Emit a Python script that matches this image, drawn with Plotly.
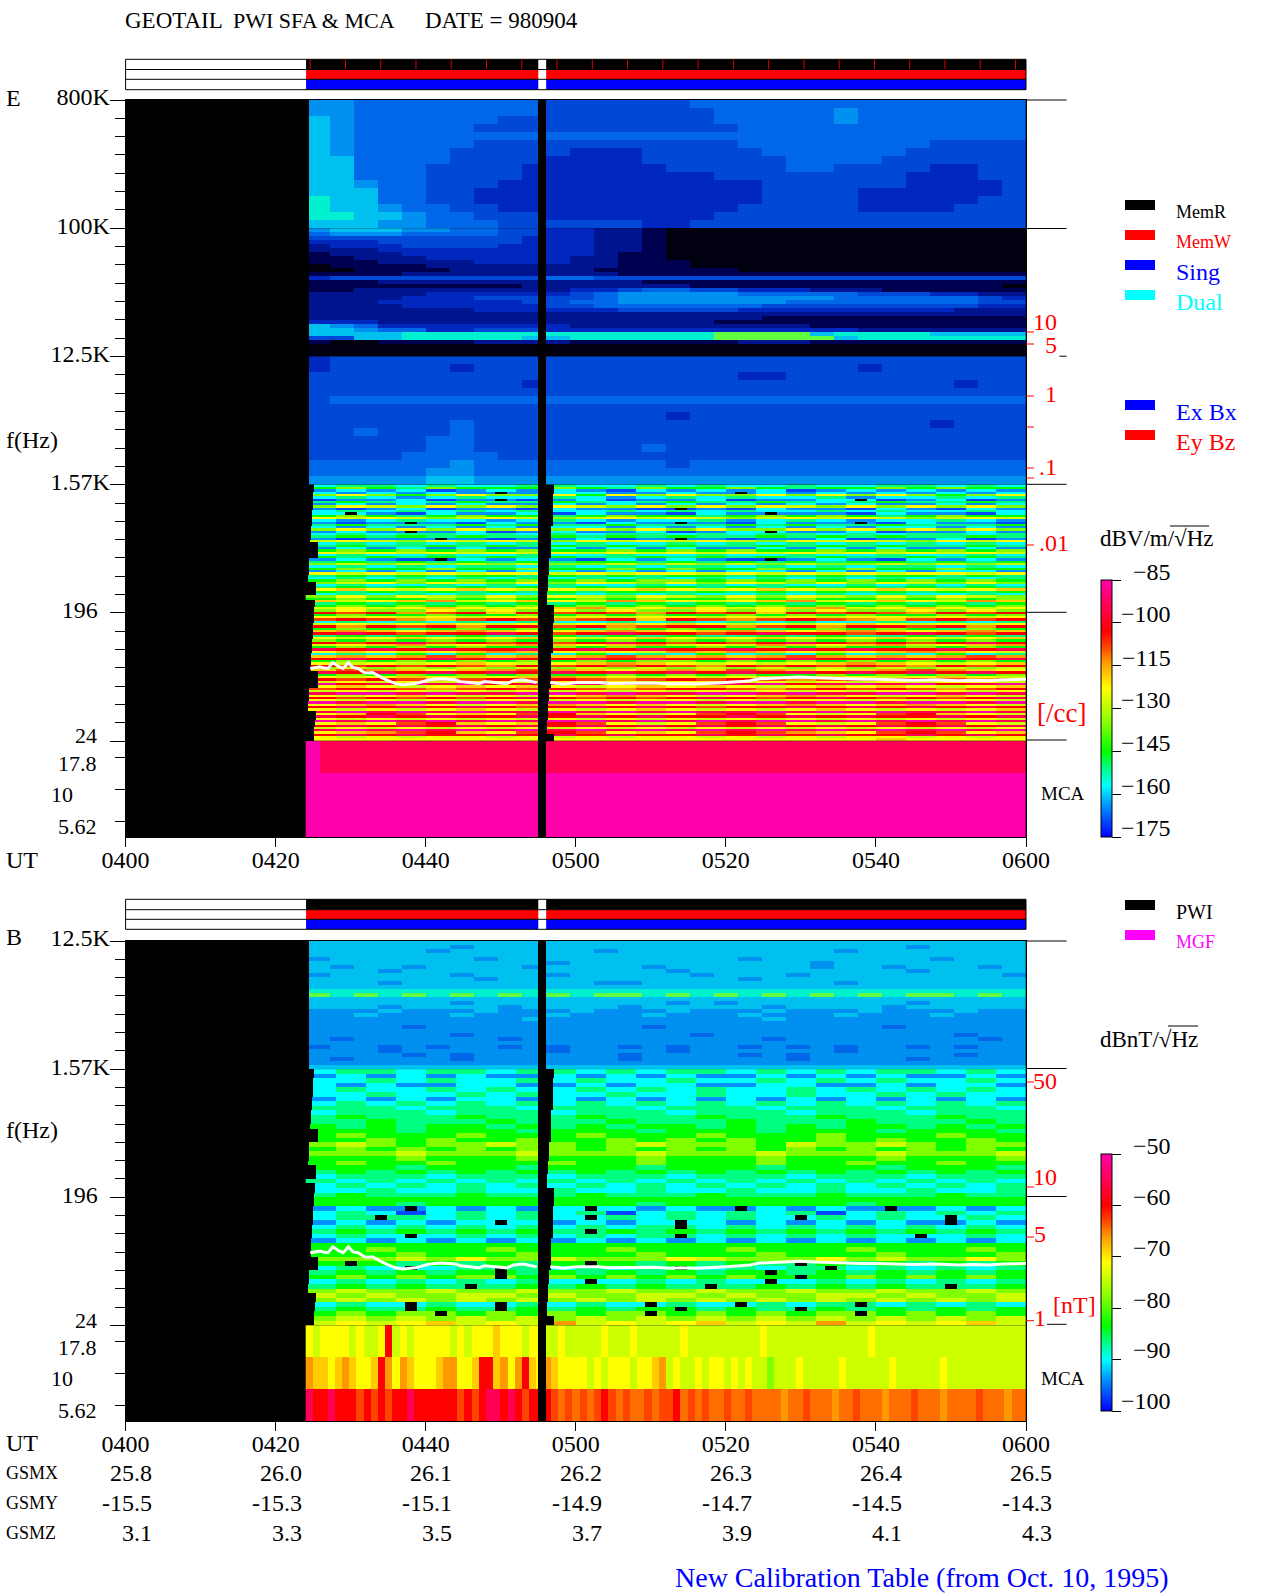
import math
import plotly.graph_objects as go

W, H = 1280, 1593
FONT = "Liberation Serif"

# ---------- level codes (fraction of the colour bar) ----------
LEVEL_FRACTION = {"0": 0.0, "1": 0.06, "2": 0.12, "3": 0.20, "4": 0.27, "5": 0.33, "6": 0.44,
                  "g": 0.52, "7": 0.58, "h": 0.63, "8": 0.68, "j": 0.71, "i": 0.74, "9": 0.80, "a": 0.90, "b": 1.0}
SPECTRUM = [[0.0, "#0000ff"], [0.06, "#0048ff"], [0.12, "#0090ff"], [0.20, "#00ffff"], [0.27, "#00ff80"],
            [0.33, "#00ff00"], [0.44, "#80ff00"], [0.52, "#ccff00"], [0.58, "#ffff00"], [0.63, "#ffcc00"],
            [0.68, "#ff9900"], [0.74, "#ff4400"], [0.80, "#ff0000"], [0.90, "#ff0055"], [1.0, "#ff00aa"]]
NOISE_COLORS = ["#000010", "#000050", "#001490", "#0028c0", "#0048d8",
                "#0068e8", "#0090f0", "#00c0f0", "#00f0d0", "#60ff40"]

# ---------- E panel: 800K-100K, 100K-12.5K, 12.5K-1.57K (mean noise level, 0-9) ----------
E_BAND1 = [
    "665555555544444455555555555555", "665555555544444445555565555555", "765555554444444445555565555555",
    "765555544444444444555555555555", "765555555555555555555555555555", "765555544444444444555555554444",
    "765555444443334444455555544444", "775555444433334444445555444444", "775554444333333444445544443344",
    "775554444333333334444444433344", "776554443333333333344444433334", "777554433333333333344443333334",
    "877554433333333333344443333344", "877655443333333333444443333444", "887765544433333334444444444444",
    "777665554444443344444444444444"]
E_BAND2 = [
    "677766554433221000000000000000", "566655554433221000000000000000", "444444444333221000000000000000",
    "333444444333221000000000000000", "233344443333221000000000000000", "222333333333221000000000000000",
    "122233333333211000000000000000", "112223333332211000000000000000", "111222233332211100000000000000",
    "011112222222211100000000000000", "001111222222111111000000000000", "111122222222211111111111111111",
    "344444444455444444444444444444", "111222222222221111111111111111", "111111111222222211111111111110",
    "112222222223345544333222111111", "222223333334566666555554443322", "222233344444566666666655555543",
    "222333333445566666665555555544", "222233333344555555544444444433", "222222233333344444333333333222",
    "222222222222222222222222222222", "222222222222222222211111111111", "333222222222222221111111111111",
    "765333333332222222222111111111", "776553344433333333333332222222", "777788888888888889999788887777",
    "447788888778888889999978888888", "100111122221111111222111111111", "000000000000000000000000000000",
    "000000000000000000000000000000", "000000000000000000000000000000"]
E_BAND3 = [
    "344444444444444444444444444444", "344444344444444444444443444444", "444444444444444444334444444444",
    "444444444344444444444444444344", "444444444444444444444444444444", "455555555555555555555555555555",
    "444444444444444444444444444444", "444444444444444344444444444444", "444444544444444444444444443444",
    "445444544444444444444444444444", "444445544444444444444444444444", "444445544444445444444444444444",
    "444455554444444444444444444444", "555555655555555455555555555555", "555556655555555555555555555555",
    "666667766666666666666666666666"]

# ---------- E panel: 1.57K-24 Hz, one row per frequency step; '.' is a short blank dash ----------
E_LOW = [
    "344343344334343343344343", "565465556546556545565655", "232312323213232312323232", "323232.2332232.323232323",
    "676567667576766767676567", "343234334323434334233434", "122312.12312231223.12312", "454345445434544543454454",
    "232323223232323232322323", "67g676767g676767g6767676", "212312213221.21322132132", "343434343343434334343343",
    "3.2132231322132.22132213", "565456554565545656545655", "7g7g6g7g6g7g7g6g7g7g6g7g", "323433234323342343233432",
    "212.21322132.21322.13221", "454445454454445454454445", "323232323323232323233232", "676767676767676676767676",
    "232.23123223123.22312232", "343443434344343443434434", "454545445454544545454454", "2122.2122312.21223122312",
    "g7g67g7g67g7g7g67g7g67g7", "343434343433434343434343", "454454545454544545454454", "232323223232322323232232",
    "565656565565656556565656", "7g7g7g7g7g7g7g7g7g7g7g7g", "343343343343343343343343", "545454545445454545445454",
    "2321.3232132321.23213232", "454545454554545454554545", "6g6g6g6g66g6g6g6g66g6g6g", "343434434343443434344343",
    "565565565565655655655655", "232323233232323323232332", "7g7g7g77g7g77g7g7g7g77g7", "454545545454554545455454",
    "343434343434343434343434", "565656565656656565656565", "6g767g6767g6767g6767g676", "343343434334343433434343",
    "454545454545545454545454", "7h7g7h7g7g7h7g7h7g7h7g7h", "545454545455454545454545", "343434334343433434343343",
    "6767g6767g67g6767g6767g6", "565565655656556565565656", "hg7h8g7h7g8h7g7h8g7h7g8h", "454545454545454545454545",
    "565656565656565656565656", "g7g7h7g7h8g7h7g7h8g7h7g7", "676676767676676767667676", "9i98i9h9i9i89i9h9i9i89i9",
    "565565565656556565655656", "7g7g7g77g7g77g7g7g77g7g7", "i9i8hi9i8i9h9i8i9i8hi9i9", "343434343343434343343434",
    "g7g7h7g7g7h7h7g7g7h7g7g7", "989i9899i98i998i9899i989", "565456565465655456565465", "h8h7h8h77h8h7h8h7h8h7h8h",
    "9a9i99a9i9a99i9a99i9a9i9", "454545445454544545445454", "7g7h7g7h7g7h7g7h7g7h7g7h", "656565656565656565656565",
    "9i9ai9i9i9a9i9i9a9i9i9a9", "g7h8g7h8h7h8g7g8h7h8g7h8", "565656556565565656556565", "a9a9a99a9a9a99a9a9a99a9a",
    "7h7g7h8h7g7g8h8h7g7h8h7g", "343535343534353435343534", "h8h8i8h8h8i8h8h8i8h8h8i8", "9a99a9a99a9a99a9a99a9a9a",
    "565656565656656565656565", "7g7g7h7g7h8h7g7g7h8h7g7h", "9i9i9i89i9i9i89i9i9i89i9", "6g6g6g6g6g6g6g6g6g6g6g6g",
    "hi8h7h8i8h7h8hi8h7h8i8h7", "a9a9a9a9a9a9a9a9a9a9a9a9", "565656565565656556565656", "7g7h7g7h8h7g7g7h8h7g7h7g",
    "9i9i8i9i9i8i9i9i8i9i9i8i", "g7g7g77g7g7g77g7g7g7g77g", "b9abab9abab9abab9abab9ab", "7h7g7h7h7g7h7h7g7h7h7g7h",
    "i99i8i9i9i8i99i8i9i9i8i9", "g7g7g7g7g7g7g7g7g7g7g7g7", "abbabaabbabaabbabaabbaba", "7g7h7g7g7h8h7g7h8h7g7h7g",
    "9i9i9i9a9i9i9a9i9a9i9i9a", "7g7g7g77g7g77g7g77g7g77g", "babbabbabbabbabbabbabbab", "7h8h7g7h8h7h7g7h8h7h8h7g",
    "9a9a9a9i9a9a9i99a9a9a9a9", "7g7g7h7g7g7h7g7g7h7g7g7h", "abababaabababaabababaaba", "7h9i7h7i9h7g7i9i7g7i9h7g",
    "a9a9a99a9a9a99a9a9a99a9a", "7g7g7g7g7g7g7g7g7g7g7g7g", "bababababbabababbabababa", "7h7i9h7h9i7g7i9i7g7i9i7g",
    "9a9a9a9a9a9a9a9a9a9a9a9a", "g7g7g7g7g7g7g7g7g7g7g7g7", "abababababababababababab", "7h8i9h7i9i7h7i9i8h7i9i7h",
    "9a9a99a9a9a99a9a9a99a9a9", "7g7g77g7g7g77g7g7g77g7g7", "7777777777777777777h7777"]
E_MCA = ["baaaaaaaaaaaaaaaaaaaaaaaaaaaaaaaaaaaaaaaaaaaaaaaaa", "b", "b"]

# ---------- B panel ----------
B_BAND = [
    "777777777777777777777777777777", "777777677777777777777777767777", "777776777777677777777767777777",
    "777777777777777777777777777777", "677777767777777777677777776777", "777777777767777777777677777777",
    "767767777677776777777677677767", "777677777777777677777777767777", "677777677767777767776777777776",
    "777777767777777777677777777777", "777677777777667777777767777777", "777777777777777777777777777777",
    "888888888888888888888888888888", "989898989898998989898989899898", "777777777777777777777777777777",
    "777777677777777676777777767777", "777677776777767777767777677777", "666766676667666766676667666766",
    "667666766676667666766676667666", "666666666766666666676666666666", "666666666666666666666666666666",
    "666656666666665666666666566666", "666666666666666666666666666666", "666666566666666656666666666566",
    "656666665666666666656666666656", "666666666666666666666666666666", "566565665656656566565656656566",
    "666566666656666566666656666666", "666656566666656666565666666566", "656666566666656666665666656666",
    "666666666666666666666666666666", "777777777777777777777777777777"]
B_LOW = [
    "344344344343443434344343", "232323223232322323232232", "334343343433433434343343", "323223322323322332232332",
    "343343433434343343434343", "334334343343343343343433", "232323323232323232323232", "343434343434343434343434",
    "444344434443444344434443", "344434443444344434443444", "454445444544454445444544", "445444544454445444544454",
    "545455454545545454554545", "555455545554555455545554", "565556555655565556555655", "556565565565656556565565",
    "6g6566g6656g6665g66g6566", "565656566565656565656565", "666g666g666g666g666g666g", "555655565556555655565556",
    "565565556556555655655655", "555455545554555455545554", "454545454545454545454545", "344434443444344434443444",
    "434343434343434343434343", "343434343434343434343434", "334334334334334334334334", "454445444544454445444544",
    "555555555555555555555555", "555455555554555555455555", "232.32323.3232.3232.2323", "343134343413434341343434",
    "34.434343.434343.4343.43", "232323.32323.32323232.32", "343434343434.34343434343", "454545454.54545454545454",
    "343.34343434.3434343.343", "232323232323232323232323", "555555555555555555555555", "556555655565556555655565",
    "555655565556555655565556", "666g6766g6667g66676g6676", "5.5454545.545454.5454545", "343.34.43434.3434.343434",
    "454545.45454545.45454545", "565656.565656565.5656565", "343434343.34343.34343434", "45454.4545454.4545454.45",
    "6g66g66g66g66g66g66g66g6", "g6g66gg6g66gg6g66gg6g66g", "6g6g6g6g6g6g6g6g6g6g6g6g", "343.43.4343.43.434.34343",
    "454.54.54545.454.5454545", "5656.565656.565656.56565", "6g6g6g6g6g6g6g6g6g6g6g6g", "g7g7hg7g8g7g7hg7g8g7g7hg"]
B_MCA = [
    "7g7777g7gg79g7g77777g7g777h777g77" "gg7ggggg7ggg7gggggg7gggggggggg7gggggggggggggg7ggggggggggggggggggggg",
    "8hh7h8h77h9878h777h8877h99h8789h7" "8h7777g7g777g77h8g7gg7g77g7g7gg6ggg7ggggg7gggggg7gggggg7ggggggggggg",
    "a99a999i9i9i99a999999i9i9aa9a9i99" "9ijijiji9ijijjijii9jijijjijjijjjj8jjijjj8jjijjj8jjjijjj8jjjjijjj8jj"]

# ---------- rows' blank edges (last row index of a run, first minute with data / gap end) ----------
LOW_START = [(3, 25.1), (11, 25.0), (18, 24.85), (24, 24.7), (25, 24.6), (32, 25.65), (39, 24.45), (42, 24.3),
             (48, 25.4), (50, 24.05), (53, 25.25), (60, 25.1), (67, 25.0), (73, 24.85), (81, 24.7), (88, 25.65),
             (94, 24.45), (98, 24.3), (102, 25.4), (105, 25.25), (111, 25.1)]
LOW_GAP_END = [(4, 57.1), (11, 57.0), (18, 56.9), (25, 56.7), (32, 56.6), (39, 56.45), (46, 56.3), (52, 56.2),
               (60, 57.1), (67, 57.0), (73, 56.9), (81, 56.7), (88, 56.6), (94, 56.45), (102, 56.3), (108, 56.2),
               (111, 57.1)]
GAP_START, GAP_END = 55.0, 56.05
DATA_START, HF_START = 24.05, 24.45

# ---------- density trace (minutes after 0400, Hz) ----------
LINE_MIN = [24.6, 25.9, 26.3, 27.0, 27.6, 28.5, 29.0, 29.7, 30.3, 31.0, 31.8, 32.3, 32.9, 33.5, 34.2, 35.3, 36.2,
            37.0, 38.6, 40.5, 42.0, 44.0, 44.6, 45.9, 47.1, 47.8, 49.5, 50.8, 51.7, 53.0, 54.8, None,
            56.6, 58.4, 60.0, 63.0, 64.5, 67.0, 70.3, 72.8, 74.0, 76.0, 78.2, 80.0, 81.9, 83.2, 84.5, 87.7, 89.8,
            92.0, 95.0, 96.5, 98.0, 100.0, 103.0, 105.0, 108.0, 111.0, 113.0, 115.0, 117.0, 120.0]
LINE_HZ = [78, 80, 79, 78, 86, 80, 78, 86, 79, 78, 73, 72.5, 73, 70, 67, 63, 60.5,
           60, 61, 65, 66, 65, 63, 62, 61, 63, 62, 61, 64, 65, 62, None,
           62, 60.5, 62, 62, 61, 61.5, 61.7, 60.5, 61, 60.5, 61, 62, 63, 64, 66, 67, 68,
           67, 66, 66, 65.5, 65.5, 65, 64.5, 65, 64, 64.5, 64, 65, 65.5]

# ---------- axes, tick labels and side texts ----------
UT_MINUTES = [0, 20, 40, 60, 80, 100, 120]
UT_LABELS = ["0400", "0420", "0440", "0500", "0520", "0540", "0600"]
E_TICKS = ["800K", "100K", "12.5K", "1.57K", "196\u00a0\u00a0", ""]
B_TICKS = ["12.5K", "1.57K", "196\u00a0\u00a0", ""]
LOW_LABELS = ["24", "17.8", "10", "5.62"]
GSMX = ["25.8", "26.0", "26.1", "26.2", "26.3", "26.4", "26.5"]
GSMY = ["-15.5", "-15.3", "-15.1", "-14.9", "-14.7", "-14.5", "-14.3"]
GSMZ = ["3.1", "3.3", "3.5", "3.7", "3.9", "4.1", "4.3"]
STATUS_TICKS = [24.6, 29.3, 34.0, 38.7, 43.4, 48.1, 52.8, 57.5, 62.2, 66.9, 71.6, 76.3, 81.0, 85.7,
                90.4, 95.1, 99.8, 104.5, 109.2, 113.9, 118.6]
E_BAR_TICKS = [-85, -100, -115, -130, -145, -160, -175]
B_BAR_TICKS = [-50, -60, -70, -80, -90, -100]

# ---------- pixel frame of the page ----------
X0, X1 = 125.6, 1026.0


def px(x):
    return x / W


def py(y):
    return 1 - y / H


def step_lookup(table, row):
    for last, value in table:
        if row < last:
            return value
    return table[-1][1]


COLS = 720
X_EDGES = [24 + k * 96 / COLS for k in range(COLS + 1)]


def to_z(rows, lookup, start=None, gap_end=None):
    """Expand code rows (top row first) to a z matrix, bottom row first."""
    z = []
    for r, row in enumerate(rows):
        s = start(r) if start else DATA_START
        g = gap_end(r) if gap_end else GAP_END
        line = []
        for k in range(COLS):
            m = (X_EDGES[k] + X_EDGES[k + 1]) / 2
            pos = (m - 24) / 96 * len(row)
            i = min(int(pos), len(row) - 1)
            c = row[i]
            if m < s or GAP_START <= m < g:
                line.append(None)
            elif c == ".":
                # a blank dash fills only the middle of its cell; the rest keeps the neighbour's level
                if 0.3 <= pos - i < 0.7:
                    line.append(None)
                else:
                    line.append(lookup(row[i - 1] if i else row[i + 1]))
            else:
                line.append(lookup(c))
        z.append(line)
    return z[::-1]


def db_e(c):
    return -175 + 90 * LEVEL_FRACTION[c]


def db_b(c):
    return -100 + 50 * LEVEL_FRACTION[c]


def edges(low, high, n):
    return [low + (high - low) * i / n for i in range(n + 1)]


def add_map(fig, rows, lookup, low, high, axes, coloraxis, start=None, gap_end=None):
    z = to_z(rows, lookup, start, gap_end)
    fig.add_trace(go.Heatmap(x=X_EDGES, y=edges(low, high, len(rows)), z=z, coloraxis=coloraxis,
                             xaxis=axes[0], yaxis=axes[1], hoverongaps=False))


fig = go.Figure()
hf_start = lambda r: HF_START
low_start = lambda r: step_lookup(LOW_START, r)
low_gap = lambda r: step_lookup(LOW_GAP_END, r)
noise = lambda c: int(c)
low_start_b = lambda r: step_lookup(LOW_START, r * 2)
low_gap_b = lambda r: step_lookup(LOW_GAP_END, r * 2)

add_map(fig, E_BAND1, noise, 4, 5, ("x", "y"), "coloraxis3", hf_start)
add_map(fig, E_BAND2, noise, 3, 4, ("x", "y"), "coloraxis3", hf_start)
add_map(fig, E_BAND3, noise, 2, 3, ("x", "y"), "coloraxis3", hf_start)
add_map(fig, E_LOW, db_e, 0, 2, ("x", "y"), "coloraxis", low_start, low_gap)
add_map(fig, E_MCA, db_e, -0.75, 0, ("x", "y"), "coloraxis")
add_map(fig, B_BAND, noise, 2, 3, ("x2", "y2"), "coloraxis3", hf_start)
add_map(fig, B_LOW, db_b, 0, 2, ("x2", "y2"), "coloraxis2", low_start_b, low_gap_b)
add_map(fig, B_MCA, db_b, -0.75, 0, ("x2", "y2"), "coloraxis2")

line_units = [None if f is None else math.log(f / 24) / math.log(8) for f in LINE_HZ]
for xa, ya in (("x", "y"), ("x2", "y2")):
    fig.add_trace(go.Scatter(x=LINE_MIN, y=line_units, mode="lines", xaxis=xa, yaxis=ya,
                             line=dict(color="white", width=3), connectgaps=False, showlegend=False))


def y_axis(top_unit, y_top, y_bottom, tick_text):
    majors = list(range(top_unit, -1, -1))
    minors = [u + k / 7 for u in range(top_unit) for k in range(1, 7)] + [-0.125, -0.375, -0.625]
    return dict(domain=[py(y_bottom), py(y_top)], range=[-0.75, top_unit], tickmode="array", tickvals=majors,
                ticktext=tick_text, ticks="outside", ticklen=15, tickwidth=1, tickcolor="black", showgrid=False,
                zeroline=False, showline=True, linecolor="black", linewidth=1, mirror=True, automargin=False,
                ticklabelstandoff=-5, ticklabelshift=-3,
                minor=dict(tickmode="array", tickvals=minors, ticks="outside", ticklen=10, tickwidth=1,
                           tickcolor="black", showgrid=False),
                tickfont=dict(family=FONT, size=24, color="black"))


def x_axis():
    return dict(domain=[px(X0), px(X1)], range=[0, 120], tickmode="array", tickvals=UT_MINUTES, ticktext=UT_LABELS,
                ticks="outside", ticklen=9, tickwidth=1, tickcolor="black", showgrid=False, zeroline=False,
                showline=True, linecolor="black", linewidth=1, mirror=True, automargin=False,
                ticklabelstandoff=-8,
                tickfont=dict(family=FONT, size=24, color="black"), tickangle=0)


def bar(y_top, y_bottom, ticks):
    return dict(x=px(1100.7), xanchor="left", xpad=0, ypad=0, y=py((y_top + y_bottom) / 2), yanchor="middle",
                lenmode="pixels", len=y_bottom - y_top, thicknessmode="pixels", thickness=11,
                outlinecolor="black", outlinewidth=1, ticks="outside", ticklen=9, tickcolor="black", tickwidth=1,
                tickmode="array", tickvals=ticks, showticklabels=False)


noise_scale = [[i / 9, c] for i, c in enumerate(NOISE_COLORS)]
shapes = []
annotations = []


def text(t, x, y, color="black", anchor="left", size=24):
    annotations.append(dict(text=t, x=px(x), y=py(y), xref="paper", yref="paper", xanchor=anchor, yanchor="middle",
                            showarrow=False, borderpad=0, font=dict(family=FONT, size=size, color=color)))


def rect(x0, x1, y0, y1, color, xref="paper"):
    if xref == "paper":
        x0, x1 = px(x0), px(x1)
    shapes.append(dict(type="rect", xref=xref, yref="paper", x0=x0, x1=x1, y0=py(y0), y1=py(y1),
                       fillcolor=color, line=dict(width=0), layer="above"))


def hline(x0, x1, y, color="black"):
    shapes.append(dict(type="line", xref="paper", yref="paper", x0=px(x0), x1=px(x1), y0=py(y), y1=py(y),
                       line=dict(color=color, width=1), layer="above"))


def status_bar(y0, y1, y2, y3, xref):
    for (a, b), color in zip(((y0, y1), (y1, y2), (y2, y3)), ("black", "red", "blue")):
        rect(DATA_START, GAP_START, a, b, color, xref)
        rect(GAP_END, 120, a, b, color, xref)
    for y in (y0, y1, y2, y3):
        hline(X0, X1, y)
    for x in (X0, X1):
        shapes.append(dict(type="line", xref="paper", yref="paper", x0=px(x), x1=px(x), y0=py(y0), y1=py(y3),
                           line=dict(color="black", width=1), layer="above"))


status_bar(59.3, 69.5, 79.3, 89.7, "x")
status_bar(899.3, 909.7, 919.3, 929.3, "x2")
for m in STATUS_TICKS:
    shapes.append(dict(type="line", xref="x", yref="paper", x0=m, x1=m, y0=py(59.8), y1=py(69.3),
                       line=dict(color="#e00000", width=1), layer="above"))

# right-hand extensions of the frequency ticks
for y in (100, 228.5, 484.3, 612.3, 740):
    hline(X1, 1066.5, y)
hline(1059.5, 1066.5, 356.2)
for y in (941, 1068.5, 1196.5):
    hline(X1, 1066.5, y)
hline(1047, 1066.5, 1324.3)

# red density / field ticks
for y in (332, 344, 396, 427, 468, 478, 545):
    hline(X1, 1034, y, "red")
for y in (1082, 1187, 1237, 1320.7):
    hline(X1, 1034, y, "red")

# legend swatches and labels
for (y, color, label, size) in ((200, "black", "MemR", 18), (230, "red", "MemW", 18), (260, "blue", "Sing", 24),
                                (290, "cyan", "Dual", 24), (400, "blue", "Ex Bx", 24), (430, "red", "Ey Bz", 24),
                                (900, "black", "PWI", 20), (930, "magenta", "MGF", 18)):
    rect(1125, 1155, y, y + 10, color)
    text(label, 1175, y + 12, color, size=size)

# header and page texts
text("GEOTAIL", 124, 20, size=23)
text("PWI SFA &amp; MCA", 232, 20, size=22)
text("DATE = 980904", 424, 20, size=23)
text("E", 5, 98)
text("B", 5, 937)
text("f(Hz)", 5, 440)
text("f(Hz)", 5, 1130)
text("UT", 5, 860)
text("UT", 5, 1443)
text("GSMX", 5, 1473, size=18)
text("GSMY", 5, 1503, size=18)
text("GSMZ", 5, 1533, size=18)
text("New Calibration Table (from Oct. 10, 1995)", 674, 1577, "blue", size=28)

for offset in (0, 584.3):
    for y, lab, right in zip((736, 763, 794, 826), LOW_LABELS, (98, 98, 74, 98)):
        text(lab, right, y + offset, anchor="right", size=22)

for k, x in enumerate(range(153, 1054, 150)):
    text(GSMX[k], x, 1473, anchor="right")
    text(GSMY[k], x, 1503, anchor="right")
    text(GSMZ[k], x, 1533, anchor="right")

for lab, x, y, size in (("10", 1058, 322, 24), ("5", 1058, 345, 24), ("1", 1058, 394, 24), (".1", 1058, 467, 24),
                        (".01", 1070, 543, 24), ("[/cc]", 1087, 713, 27), ("50", 1058, 1081, 24), ("10", 1058, 1177, 24),
                        ("5", 1047, 1234, 24), ("1", 1047, 1318, 24), ("[nT]", 1097, 1305, 24)):
    text(lab, x, y, "red", anchor="right", size=size)
text("MCA", 1040, 793, size=19)
text("MCA", 1040, 1378, size=19)

# colour bar labels sit just above their ticks
for t, y in zip(E_BAR_TICKS, (572, 614, 658, 700, 743, 786, 828)):
    text(f"\u2212{abs(t)}", 1172, y, anchor="right")
for t, y in zip(B_BAR_TICKS, (1146, 1197, 1248, 1300, 1350, 1401)):
    text(f"\u2212{abs(t)}", 1172, y, anchor="right")

# unit captions with the root bar over Hz
text("dBV/m/\u221aHz", 1099, 538, size=23)
hline(1170, 1209, 526)
text("dBnT/\u221aHz", 1099, 1039, size=23)
hline(1168, 1198, 1026)

fig.update_layout(
    template="none",
    width=W, height=H, autosize=False, margin=dict(l=0, r=0, t=0, b=0, pad=0),
    paper_bgcolor="white", plot_bgcolor="black", showlegend=False,
    font=dict(family=FONT, size=24, color="black"),
    xaxis=dict(x_axis(), anchor="y"), yaxis=dict(y_axis(5, 100, 837.3, E_TICKS), anchor="x"),
    xaxis2=dict(x_axis(), anchor="y2"), yaxis2=dict(y_axis(3, 941, 1421.4, B_TICKS), anchor="x2"),
    coloraxis=dict(cmin=-175, cmax=-85, colorscale=SPECTRUM, colorbar=bar(580.3, 837.0, E_BAR_TICKS)),
    coloraxis2=dict(cmin=-100, cmax=-50, colorscale=SPECTRUM, colorbar=bar(1154.3, 1411.0, B_BAR_TICKS)),
    coloraxis3=dict(cmin=0, cmax=9, colorscale=noise_scale, showscale=False),
    shapes=shapes, annotations=annotations,
)

fig.write_html("out.html", config={"displayModeBar": False}, post_script="document.body.style.margin='0';")
